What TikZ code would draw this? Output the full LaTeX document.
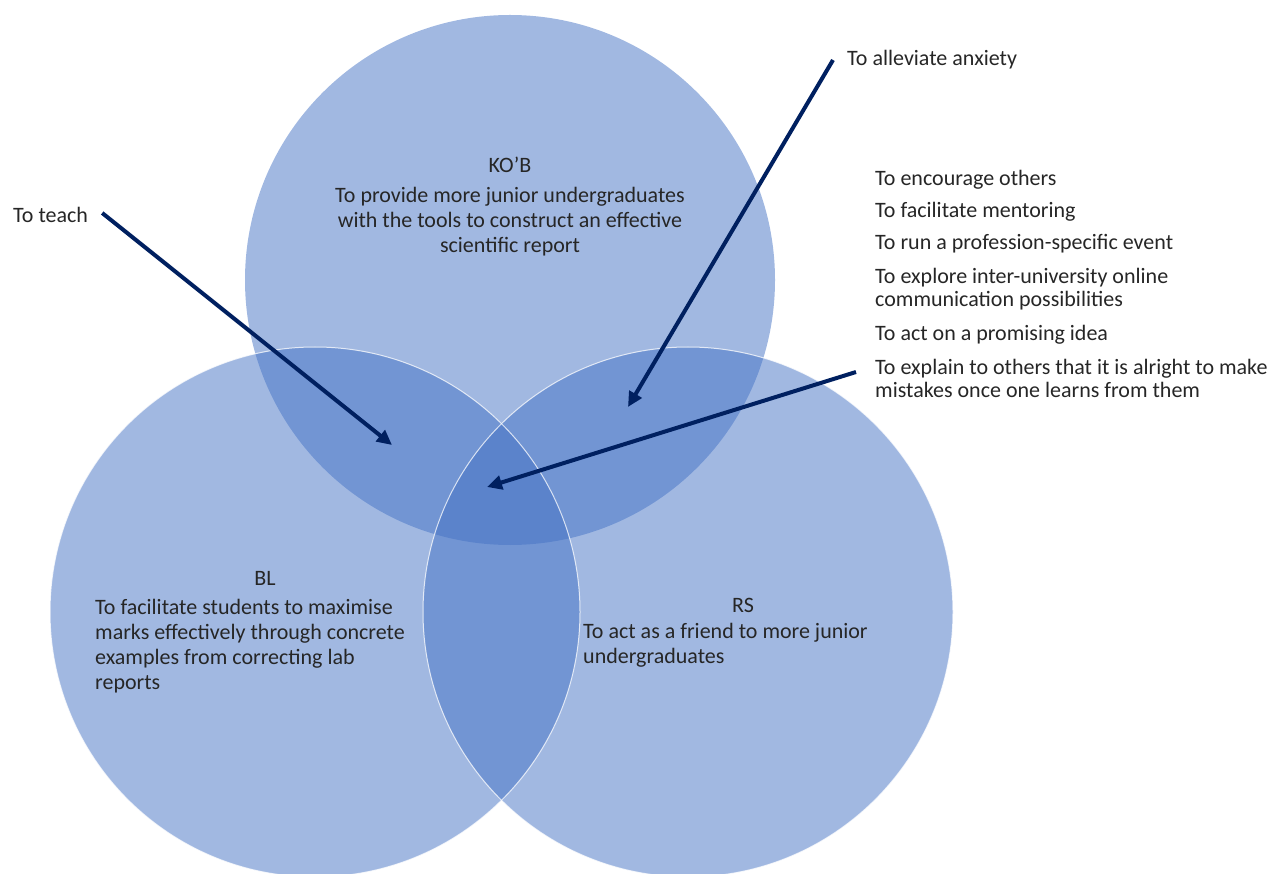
\documentclass[tikz,border=0pt]{standalone}
\usepackage{fontspec}
\setmainfont{Carlito}
\usetikzlibrary{arrows.meta}

\definecolor{vennblue}{HTML}{4472C4}
\definecolor{arrownavy}{HTML}{002060}
\definecolor{txtgray}{HTML}{262626}

\tikzset{
  venn/.style={fill=vennblue, fill opacity=0.5},
  vennline/.style={draw=white, line width=1pt, draw opacity=0.75},
  lbl/.style={text=txtgray, inner sep=0pt, align=left,
    font=\fontsize{22}{23}\selectfont},
  inlbl/.style={lbl, font=\fontsize{22}{25}\selectfont},
  arr/.style={draw=arrownavy, line width=4pt,
    -{Triangle[length=15pt,width=14pt]}},
}

\begin{document}
\begin{tikzpicture}[x=1pt, y=-1pt]

  \useasboundingbox (0,0) rectangle (1269,874);

  \newcommand\R{265pt}

  % the three circles
  \fill[venn] (510,280) circle (\R);
  \fill[venn] (315,612) circle (\R);
  \fill[venn] (688,612) circle (\R);
  \draw[vennline] (688,612) circle (\R);
  \draw[vennline] (315,612) circle (\R);

  % text inside the circles
  \node[inlbl] (kobname) at (510,165) {KO’B};
  \node[inlbl, align=center] (kobtext) at (510,222)
    {To provide more junior undergraduates\\
     with the tools to construct an effective\\
     scientific report};

  \node[inlbl] (blname) at (265,578) {BL};
  \node[inlbl, anchor=west] (bltext) at (95,646)
    {To facilitate students to maximise\\
     marks effectively through concrete\\
     examples from correcting lab\\
     reports};

  \node[inlbl] (rsname) at (743,605) {RS};
  \node[inlbl, anchor=west] (rstext) at (583,645)
    {To act as a friend to more junior\\
     undergraduates};

  % labels outside
  \node[lbl, anchor=west] (teach) at (13,215) {To teach};
  \node[lbl, anchor=west] (alleviate) at (847,60) {To alleviate anxiety};

  \node[lbl, anchor=west] (encourage) at (875,180) {To encourage others};
  \node[lbl, anchor=west] (mentoring) at (875,212) {To facilitate mentoring};
  \node[lbl, anchor=west] (profession) at (875,244) {To run a profession-specific event};
  \node[lbl, anchor=west] (explore) at (875,289)
    {To explore inter-university online\\ communication possibilities};
  \node[lbl, anchor=west] (promising) at (875,335) {To act on a promising idea};
  \node[lbl, anchor=west] (explain) at (875,378)
    {To explain to others that it is alright to make\\ mistakes once one learns from them};

  % arrow tips
  \coordinate (teachtip) at (392,445);
  \coordinate (alleviatetip) at (628,407);
  \coordinate (explaintip) at (487,487);

  \draw[arr] ([xshift=14pt, yshift=2pt]teach.east) -- (teachtip);
  \draw[arr] ([xshift=-14pt]alleviate.west) -- (alleviatetip);
  \draw[arr] ([xshift=-19pt, yshift=6pt]explain.west) -- (explaintip);

\end{tikzpicture}
\end{document}
